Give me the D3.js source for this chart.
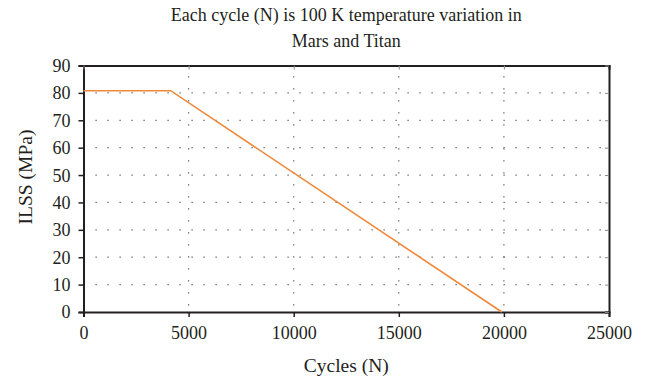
<!DOCTYPE html>
<html>
<head>
<meta charset="utf-8">
<script src="https://cdn.jsdelivr.net/npm/d3@7"></script>
<style>
  body { margin: 0; background: #fff; }
  svg text { font-family: "Liberation Serif", "DejaVu Serif", serif; fill: #231f20; }
</style>
</head>
<body>
<div id="chart"></div>
<script>
// ILSS degradation vs thermal cycles
const cycles = [0, 4150, 19900];
const ilss = [80.8, 80.8, 0];
const xTicks = [0, 5000, 10000, 15000, 20000, 25000];
const yTicks = [0, 10, 20, 30, 40, 50, 60, 70, 80, 90];
const titleLines = ["Each cycle (N) is 100 K temperature variation in", "Mars and Titan"];

const width = 661, height = 380;
const margin = { top: 65.5, right: 52, bottom: 68, left: 83.5 };

const svg = d3.select("#chart").append("svg")
  .attr("width", width)
  .attr("height", height);

const x = d3.scaleLinear().domain([0, 25000]).range([margin.left, width - margin.right]);
const y = d3.scaleLinear().domain([0, 90]).range([height - margin.bottom, margin.top]);

// dotted grid
svg.append("g").selectAll("line")
  .data(yTicks.filter(d => d > 0 && d < 90))
  .enter().append("line")
  .attr("x1", x(0) + 12).attr("x2", x(25000))
  .attr("y1", d => y(d)).attr("y2", d => y(d))
  .attr("stroke", "#555").attr("stroke-width", 1.2)
  .attr("stroke-dasharray", "1.2,10.8");

svg.append("g").selectAll("line")
  .data(xTicks.filter(d => d > 0 && d < 25000))
  .enter().append("line")
  .attr("x1", d => x(d)).attr("x2", d => x(d))
  .attr("y1", y(0) - 6.5).attr("y2", y(90))
  .attr("stroke", "#555").attr("stroke-width", 1.2)
  .attr("stroke-dasharray", "1.2,10.8");

// frame with inner ticks on top/right
const xAxis = svg.append("g")
  .attr("transform", "translate(0," + y(0) + ")")
  .call(d3.axisBottom(x).tickValues(xTicks).tickSize(5).tickFormat(d3.format("d")));
const yAxis = svg.append("g")
  .attr("transform", "translate(" + x(0) + ",0)")
  .call(d3.axisLeft(y).tickValues(yTicks).tickSize(5));
const xTop = svg.append("g")
  .attr("transform", "translate(0," + y(90) + ")")
  .call(d3.axisBottom(x).tickValues(xTicks).tickSize(4).tickFormat(""));
const yRight = svg.append("g")
  .attr("transform", "translate(" + x(25000) + ",0)")
  .call(d3.axisLeft(y).tickValues(yTicks).tickSize(4).tickFormat(""));

[xAxis, yAxis, xTop, yRight].forEach(g => {
  g.attr("font-family", null).attr("font-size", null);
  g.select(".domain").attr("stroke", "#231f20").attr("stroke-width", 2);
  g.selectAll(".tick line").attr("stroke", "#231f20").attr("stroke-width", 1.5);
});
xTop.selectAll(".tick line").attr("stroke", "#888").attr("stroke-width", 1);
yRight.selectAll(".tick line").attr("stroke", "#888").attr("stroke-width", 1);

xAxis.selectAll(".tick text")
  .attr("font-size", 18)
  .attr("y", 0).attr("dy", null)
  .attr("transform", "translate(0,26.5)");
yAxis.selectAll(".tick text")
  .attr("font-size", 18)
  .attr("x", -13).attr("dy", "0.33em");

// data line
const line = d3.line()
  .x((d, i) => x(cycles[i]))
  .y(d => y(d));

svg.append("path")
  .datum(ilss)
  .attr("d", line)
  .attr("fill", "none")
  .attr("stroke", "#f0883a")
  .attr("stroke-width", 1.6);

// titles
svg.append("text")
  .attr("text-anchor", "middle")
  .attr("font-size", 18)
  .selectAll("tspan")
  .data(titleLines)
  .enter().append("tspan")
  .attr("x", (x(0) + x(25000)) / 2)
  .attr("y", (d, i) => 21 + i * 26)
  .text(d => d);

svg.append("text")
  .attr("text-anchor", "middle")
  .attr("font-size", 19.5)
  .attr("x", (x(0) + x(25000)) / 2)
  .attr("y", 372)
  .text("Cycles (N)");

svg.append("text")
  .attr("text-anchor", "middle")
  .attr("font-size", 19.5)
  .attr("transform", "translate(32,177) rotate(-90)")
  .text("ILSS (MPa)");
</script>
</body>
</html>
